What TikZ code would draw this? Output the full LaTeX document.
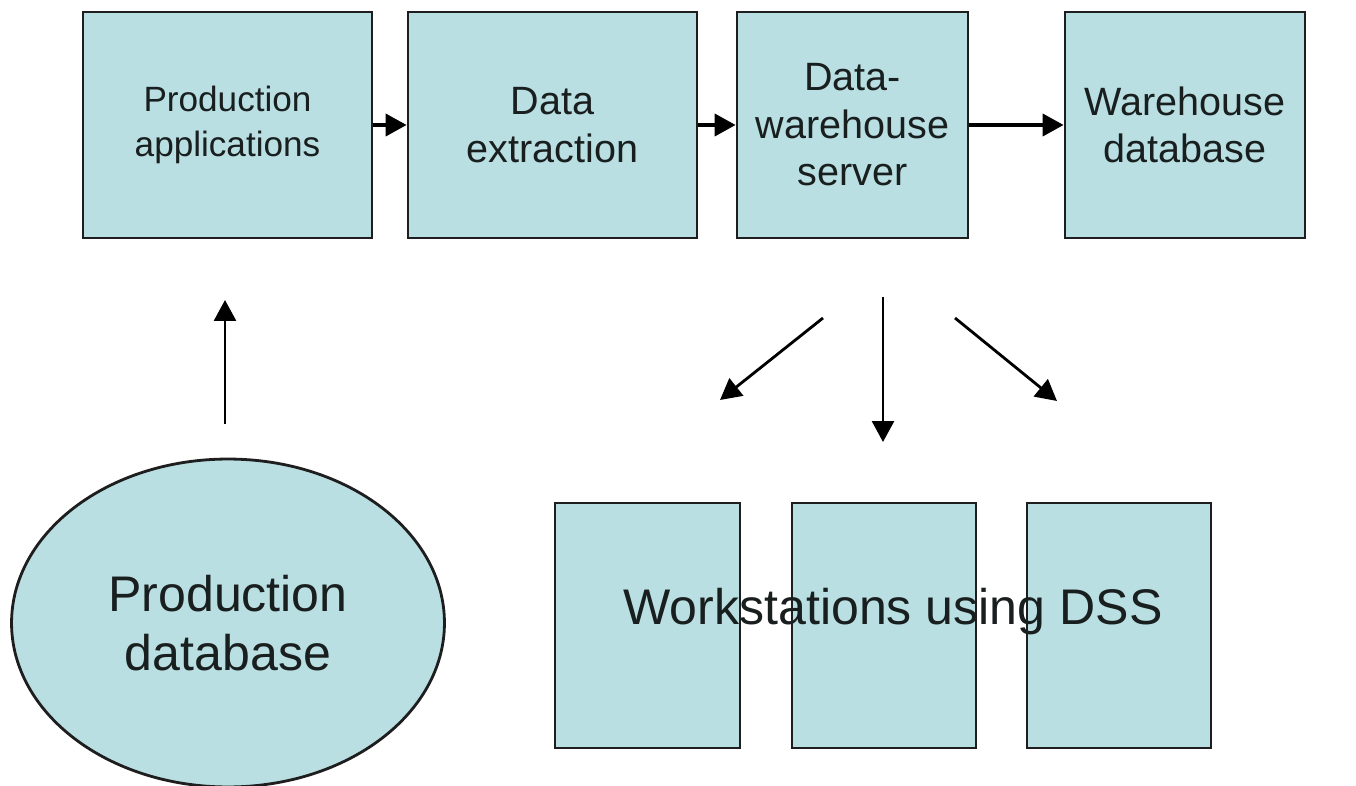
\documentclass[tikz,border=0pt]{standalone}
\usepackage{fontspec}
\setmainfont{Liberation Sans}
\usepackage{tikz}
\usetikzlibrary{arrows.meta,shapes.geometric}
\definecolor{boxfill}{RGB}{185,223,227}
\definecolor{boxline}{RGB}{30,30,30}
\definecolor{textcol}{RGB}{25,30,30}

\begin{document}
\begin{tikzpicture}[x=0.02cm,y=-0.02cm,>={Triangle[length=0.42cm,width=0.44cm]},
		box/.style = {draw=boxline,fill=boxfill,line width=1.6pt,inner sep=0pt,align=center,text=textcol,minimum height=4.52cm},
		flow/.style = {->,line width=2.2pt},
		link/.style = {->,line width=1.6pt}
		]
		\useasboundingbox (0,0) rectangle (1356,786);
		%CATENA IN ALTO
		\node[box,minimum width=5.78cm,font=\fontsize{20}{26}\selectfont] (@app) at (227.5,125) {Production\\applications};
		\node[box,minimum width=5.78cm,font=\fontsize{22.5}{27}\selectfont] (@ext) at (552.5,125) {Data\\extraction};
		\node[box,minimum width=4.62cm,font=\fontsize{22.5}{27}\selectfont] (@srv) at (852.5,125) {Data-\\warehouse\\server};
		\node[box,minimum width=4.80cm,font=\fontsize{22.5}{27}\selectfont] (@wdb) at (1185,125) {Warehouse\\database};
		\draw[flow] (@app) -- (@ext);
		\draw[flow] (@ext) -- (@srv);
		\draw[flow] (@srv) -- (@wdb);
		%DATABASE DI PRODUZIONE
		\node[ellipse,draw=boxline,fill=boxfill,line width=1.6pt,inner sep=0pt,minimum width=8.66cm,minimum height=6.56cm,align=center,text=textcol,font=\fontsize{28.5}{33.5}\selectfont] (@pdb) at (228,623) {Production\\database};
		\coordinate (@up0) at (225,424);
		\coordinate (@up1) at (225,300);
		\draw[link] (@up0) -- (@up1);
		%WORKSTATION
		\node[box,minimum width=3.70cm,minimum height=4.90cm] (@ws1) at (647.5,625.5) {};
		\node[box,minimum width=3.68cm,minimum height=4.90cm] (@ws2) at (884,625.5) {};
		\node[box,minimum width=3.68cm,minimum height=4.90cm] (@ws3) at (1119,625.5) {};
		\node[text=textcol,font=\fontsize{28.5}{33}\selectfont] (@dss) at (893,612) {Workstations using DSS};
		%FRECCE VERSO LE WORKSTATION
		\coordinate (@l0) at (823,318);
		\coordinate (@l1) at (720,400);
		\coordinate (@m0) at (883,297);
		\coordinate (@m1) at (883,442);
		\coordinate (@r0) at (955,318);
		\coordinate (@r1) at (1057,401);
		\draw[link] (@l0) -- (@l1);
		\draw[link] (@m0) -- (@m1);
		\draw[link] (@r0) -- (@r1);
	\end{tikzpicture}
\end{document}
